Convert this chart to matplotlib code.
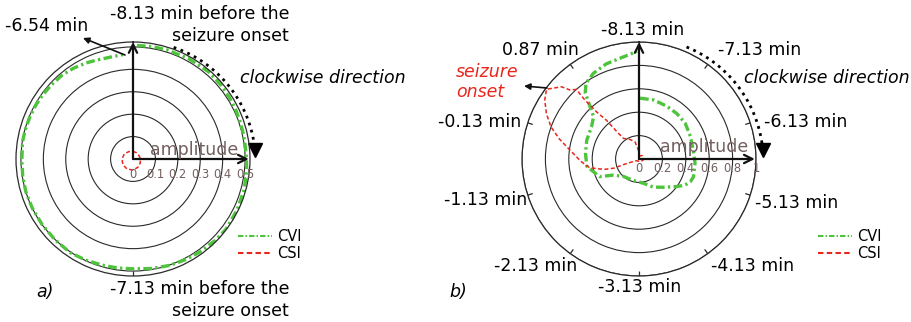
import numpy as np
import matplotlib
matplotlib.use("Agg")
import matplotlib.pyplot as plt
from matplotlib.lines import Line2D
from matplotlib.transforms import offset_copy

W, H = 911, 322

# a) угол по часовой стрелке от верха (град) и амплитуда
a_cvi_deg = [2, 10, 17, 29, 41, 50, 58, 65, 71, 77, 83, 89, 95, 101, 106, 116, 127, 135,
             144, 152, 161, 170, 180, 188, 196, 205, 214, 224, 234, 244, 253, 261, 269,
             279, 285, 292, 299, 305, 312, 320, 327, 334, 340, 345, 350, 354.5]
a_cvi_amp = [0.507, 0.509, 0.51, 0.512, 0.515, 0.513, 0.51, 0.508, 0.506, 0.505, 0.504,
             0.506, 0.509, 0.511, 0.514, 0.517, 0.52, 0.516, 0.511, 0.507, 0.502, 0.496,
             0.49, 0.491, 0.493, 0.498, 0.503, 0.501, 0.50, 0.50, 0.50, 0.498, 0.496,
             0.499, 0.498, 0.497, 0.496, 0.494, 0.492, 0.49, 0.484, 0.477, 0.47, 0.466,
             0.466, 0.468]
a_csi_deg = [0, 30, 60, 90, 120, 150, 180, 210, 240, 270, 300, 330, 360]
a_csi_amp = [0.034, 0.032, 0.031, 0.033, 0.037, 0.043, 0.049, 0.052, 0.052, 0.049,
             0.045, 0.038, 0.034]
a_rings = [0.1, 0.2, 0.3, 0.4, 0.5]
a_ring_labels = ['0', '0.1', '0.2', '0.3', '0.4', '0.5']
a_tick_deg = [0, 180]

# b)
b_cvi_deg = [1, 14, 28, 40, 52, 66, 81, 94, 108, 114, 120, 126, 139, 153, 170, 195, 222,
             238, 246, 262, 276, 290, 304, 313, 318, 321, 325, 332, 341, 349, 359]
b_cvi_amp = [0.52, 0.52, 0.51, 0.505, 0.50, 0.48, 0.47, 0.48, 0.49, 0.48, 0.45, 0.40,
             0.32, 0.27, 0.21, 0.19, 0.20, 0.26, 0.37, 0.45, 0.46, 0.475, 0.49, 0.53,
             0.64, 0.73, 0.79, 0.83, 0.86, 0.875, 0.92]
b_csi_deg = [0, 20, 45, 70, 95, 120, 150, 180, 210, 235, 245, 250, 250, 253, 256, 260,
             268, 277, 284, 290, 296, 302, 307, 313, 315, 318, 317.5, 318, 320, 321, 323,
             335, 347, 356, 359]
b_csi_amp = [0.02, 0.03, 0.04, 0.035, 0.04, 0.03, 0.025, 0.02, 0.02, 0.025, 0.05, 0.11,
             0.23, 0.30, 0.35, 0.43, 0.50, 0.59, 0.70, 0.80, 0.88, 0.95, 0.99, 0.905,
             0.834, 0.80, 0.70, 0.54, 0.43, 0.30, 0.22, 0.185, 0.15, 0.077, 0.03]
b_rings = [0.2, 0.4, 0.6, 0.8, 1.0]
b_ring_labels = ['0', '0.2', '0.4', '0.6', '0.8', '1']
b_tick_deg = [0, 36, 72, 108, 144, 180, 216, 252, 288, 324]
b_time_labels = ['-8.13 min', '-7.13 min', '-6.13 min', '-5.13 min', '-4.13 min',
                 '-3.13 min', '-2.13 min', '-1.13 min', '-0.13 min', '0.87 min']
b_label_px = [(643, 30), (760, 50), (806, 122), (797, 203), (753, 266), (640, 287),
              (536, 266), (486, 200), (480, 122), (540, 50)]

GREEN = '#4ec43c'
RED = '#e8261c'
BROWN = '#735f5f'
GRID = '#2a2a2a'
FS = 12.5
CVI_LS = (0, (2.6, 1.0, 0.7, 1.0))
CSI_LS = (0, (2.6, 1.6))


def fx(x):
    return x / W


def fy(y):
    return 1 - y / H


def style_polar(ax, rmax, rings, tick_deg):
    ax.set_theta_zero_location('N')
    ax.set_theta_direction(-1)
    ax.set_ylim(0, rmax)
    ax.set_yticks(rings)
    ax.set_yticklabels([])
    ax.set_xticks([])
    ax.xaxis.grid(False)
    ax.yaxis.grid(True, color=GRID, lw=0.8, ls='-')
    ax.spines['polar'].set_color(GRID)
    ax.spines['polar'].set_linewidth(0.9)
    ax.set_facecolor('none')
    # короткие засечки внутрь от внешней окружности
    ax.vlines(np.deg2rad(tick_deg), rmax * 0.955, rmax, colors=GRID, lw=0.9)


def ring_labels(ax, fig, rings, labels, dy):
    tr = offset_copy(ax.transData, fig=fig, x=0, y=dy, units='dots')
    for r, s in zip([0] + rings, labels):
        ax.text(np.pi / 2, r, s, transform=tr, ha='center', va='center',
                fontsize=8.3, color=BROWN, clip_on=False)


def main_arrows(ax, rmax):
    ap = dict(arrowstyle='->', lw=1.6, color='#111111', mutation_scale=15,
              shrinkA=0, shrinkB=0)
    ax.annotate('', xy=(0, rmax), xytext=(0, 0), arrowprops=ap)
    ax.annotate('', xy=(np.pi / 2, rmax * 0.99), xytext=(0, 0), arrowprops=ap)


def cw_arrow(ax, d0, d1, r0, r1):
    th = np.deg2rad(np.linspace(d0, d1, 40))
    rr = np.linspace(r0, r1, 40)
    ax.plot(th, rr, color='black', ls=':', lw=2, clip_on=False)
    ax.plot([np.deg2rad(d1 + 2)], [r1], marker='v', ms=10, color='black', clip_on=False)


def legend(ax, x):
    handles = [Line2D([], [], color=GREEN, ls=CVI_LS, lw=1.5),
               Line2D([], [], color=RED, ls=CSI_LS, lw=1.5)]
    ax.legend(handles, ['CVI', 'CSI'], loc='center left',
              bbox_to_anchor=(fx(x), fy(245)), bbox_transform=ax.figure.transFigure,
              frameon=False, fontsize=10.5, handlelength=2.3, handletextpad=0.4,
              labelspacing=0.15, borderpad=0, borderaxespad=0)


fig = plt.figure(figsize=(W / 100, H / 100), dpi=100)

# ---------- a) ----------
ax1 = fig.add_axes([fx(16), 46 / H, 234 / W, 234 / H], projection='polar')
style_polar(ax1, 0.522, a_rings, a_tick_deg)
ax1.plot(np.deg2rad(a_cvi_deg), a_cvi_amp, color=GREEN, ls=CVI_LS, lw=2.4)
ax1.plot(np.deg2rad(a_csi_deg), a_csi_amp, color=RED, ls=CSI_LS, lw=1.1)
main_arrows(ax1, 0.522)
ring_labels(ax1, fig, a_rings, a_ring_labels, -16)
ax1.text(0.763, 0.538, 'amplitude', transform=ax1.transAxes, ha='center', va='center',
         fontsize=FS, color=BROWN)
cw_arrow(ax1, 20, 84, 0.53, 0.545)
legend(ax1, 238)

fig.text(fx(289), fy(25), '-8.13 min before the\nseizure onset', ha='right', va='center',
         multialignment='right', fontsize=FS, linespacing=1.35)
fig.text(fx(289), fy(300), '-7.13 min before the\nseizure onset', ha='right', va='center',
         multialignment='right', fontsize=FS, linespacing=1.35)
fig.text(fx(5), fy(26), '-6.54 min', ha='left', va='center', fontsize=FS)
fig.text(fx(240), fy(78), 'clockwise direction', ha='left', va='center', fontsize=FS,
         style='italic')
fig.text(fx(45), fy(292), 'a)', ha='center', va='center', fontsize=FS, style='italic')
fig.add_artist(plt.Annotation('', xy=(83, H - 38), xytext=(125, H - 55),
                              xycoords='figure pixels', textcoords='figure pixels',
                              arrowprops=dict(arrowstyle='-|>', lw=1.2, color='#111111',
                                              mutation_scale=9, shrinkA=0, shrinkB=0)))

# ---------- b) ----------
ax2 = fig.add_axes([fx(522), 46 / H, 234 / W, 234 / H], projection='polar')
style_polar(ax2, 1.0, b_rings, b_tick_deg)
ax2.plot(np.deg2rad(b_cvi_deg), b_cvi_amp, color=GREEN, ls=CVI_LS, lw=2.4)
ax2.plot(np.deg2rad(b_csi_deg), b_csi_amp, color=RED, ls=CSI_LS, lw=1.1)
main_arrows(ax2, 1.0)
ring_labels(ax2, fig, b_rings, b_ring_labels, -9)
ax2.text(0.778, 0.551, 'amplitude', transform=ax2.transAxes, ha='center', va='center',
         fontsize=FS, color=BROWN)
cw_arrow(ax2, 23, 84, 1.04, 1.06)
legend(ax2, 818)

for s, (x, y) in zip(b_time_labels, b_label_px):
    fig.text(fx(x), fy(y), s, ha='center', va='center', fontsize=FS)
fig.text(fx(744), fy(78), 'clockwise direction', ha='left', va='center', fontsize=FS,
         style='italic')
fig.text(fx(456), fy(82), 'seizure\nonset', ha='left', va='center', fontsize=FS,
         style='italic', color=RED, linespacing=1.15)
fig.text(fx(458), fy(292), 'b)', ha='center', va='center', fontsize=FS, style='italic')
fig.add_artist(plt.Annotation('', xy=(524, H - 86), xytext=(547, H - 88),
                              xycoords='figure pixels', textcoords='figure pixels',
                              arrowprops=dict(arrowstyle='-|>', lw=1.2, color='#111111',
                                              mutation_scale=9, shrinkA=0, shrinkB=0)))

fig.savefig('out.png', dpi=100)
